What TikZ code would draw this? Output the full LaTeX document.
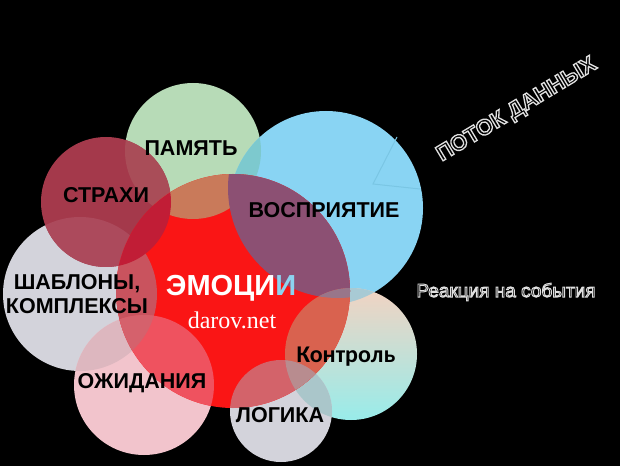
\documentclass[tikz,border=0pt]{standalone}
\usepackage{fontspec}
\setmainfont{Liberation Sans}
\newfontfamily\calib{Carlito}
\newfontfamily\serifb{Liberation Serif}
\newfontfamily\outlbold{Liberation Sans Bold}[FakeBold=6]
\newfontfamily\outlreg{Liberation Sans}[FakeBold=5]
\newcommand\lightstroke{\special{pdf:literal direct 0.88 G}}
\definecolor{cG}{HTML}{B7DBB7}
\definecolor{cB}{HTML}{89D4F3}
\definecolor{cD}{HTML}{A4394B}
\definecolor{cS}{HTML}{D3D3DB}
\definecolor{cP}{HTML}{F2C4CC}
\definecolor{cKt}{HTML}{F2D3C2}
\definecolor{cKb}{HTML}{98ECEA}
\definecolor{cL}{HTML}{D3D3DB}
\definecolor{cR}{HTML}{FA1515}
\definecolor{cGB}{HTML}{7DC9CE}
\definecolor{cGD}{HTML}{A94D58}
\definecolor{cSD}{HTML}{AC4A5C}
\definecolor{cSP}{HTML}{DDB7BF}
\definecolor{cKL}{HTML}{AAC6CA}
\definecolor{cKB}{HTML}{A8CAD4}
\definecolor{cRG}{HTML}{C97A5A}
\definecolor{cRD}{HTML}{C11D36}
\definecolor{cRS}{HTML}{C9535E}
\definecolor{cRP}{HTML}{EF525F}
\definecolor{cRSP}{HTML}{D5616C}
\definecolor{cRK}{HTML}{D9624F}
\definecolor{cRL}{HTML}{D3636A}
\definecolor{cRKL}{HTML}{B88C8F}
\definecolor{cPu}{HTML}{8C5073}
\definecolor{cPuK}{HTML}{98768A}
\definecolor{cTri}{HTML}{7AC6E4}
\definecolor{cBlueI}{HTML}{8CD3F0}
\tikzset{
  lbl/.style={text=black,font=\fontsize{21.5}{24}\selectfont\bfseries,inner sep=0pt},
}
\begin{document}
\begin{tikzpicture}[x=1pt,y=1pt]
\useasboundingbox (0,0) rectangle (620,466);
\fill[black] (0,0) rectangle (620,466);
% centres
\coordinate (G) at (193,315);
\coordinate (B) at (326,258);
\coordinate (D) at (106,264);
\coordinate (S) at (80,172);
\coordinate (P) at (144,81);
\coordinate (K) at (351,112);
\coordinate (L) at (281,55);
\coordinate (R) at (233,175);
\coordinate (U) at (338,278);
\def\cG{(G) circle[radius=68]}
\def\cB{(B) circle[radius=97]}
\def\cD{(D) circle[radius=65]}
\def\cS{(S) circle[radius=77]}
\def\cP{(P) circle[radius=70]}
\def\cK{(K) circle[radius=66]}
\def\cL{(L) circle[radius=51]}
\def\cR{(R) circle[radius=117]}
\def\cU{(U) circle[radius=110]}
% pastel base circles
\fill[cS] \cS;
\fill[cP] \cP;
\begin{scope}\clip \cS; \fill[cSP] \cP; \end{scope}
\fill[cG] \cG;
\fill[cB] \cB;
\begin{scope}\clip \cG; \fill[cGB] \cB; \end{scope}
% faint triangle inside the blue circle
\coordinate (t1) at (397,329);
\coordinate (t2) at (373,282);
\coordinate (t3) at (420,277);
\draw[cTri,line width=1pt] (t1) -- (t2) -- (t3);
\shade[top color=cKt,bottom color=cKb] \cK;
\begin{scope}\clip \cK; \fill[cKB] \cB; \end{scope}
\fill[cL] \cL;
\begin{scope}\clip \cK; \fill[cKL] \cL; \end{scope}
% dark red
\fill[cD] \cD;
\begin{scope}\clip \cD; \fill[cGD] \cG; \fill[cSD] \cS; \end{scope}
% big red and its overlaps
\fill[cR] \cR;
\begin{scope}
  \clip \cR;
  \fill[cRG] \cG;
  \fill[cRS] \cS;
  \fill[cRP] \cP;
  \begin{scope}\clip \cS; \fill[cRSP] \cP; \end{scope}
  \fill[cRD] \cD;
  \fill[cPu] \cU;
  \fill[cRK] \cK;
  \begin{scope}\clip \cU; \fill[cPuK] \cK; \end{scope}
  \fill[cRL] \cL;
  \begin{scope}\clip \cK; \fill[cRKL] \cL; \end{scope}
\end{scope}
% labels
\node[lbl] (pam) at (191,318) {ПАМЯТЬ};
\node[lbl] (str) at (106,271) {СТРАХИ};
\node[lbl] (vos) at (324,256) {ВОСПРИЯТИЕ};
\node[lbl,align=center] (sha) at (77,172) {ШАБЛОНЫ,\\КОМПЛЕКСЫ};
\node[lbl] (ozh) at (142,83) {ОЖИДАНИЯ};
\node[lbl] (log) at (280,51) {ЛОГИКА};
\node[text=black,font=\fontsize{24}{26}\selectfont\calib\bfseries,inner sep=0pt] (kon) at (346,109) {Контроль};
\node[text=white,font=\fontsize{29}{32}\selectfont\bfseries,inner sep=0pt] (emo) at (231,178) {ЭМОЦИ\textcolor{cBlueI}{И}};
\node[text=white,font=\fontsize{24}{26}\selectfont\serifb,inner sep=0pt] (dar) at (232,146) {darov.net};
% outlined side texts
\node[text=black,inner sep=0pt,font=\fontsize{22}{24}\selectfont\outlbold,rotate=31] (flow) at (517,356) {\lightstroke ПОТОК ДАННЫХ};
\node[text=black,inner sep=0pt,font=\fontsize{19}{22}\selectfont\outlreg] (reac) at (506,174) {\lightstroke Реакция на события};
\end{tikzpicture}
\end{document}
